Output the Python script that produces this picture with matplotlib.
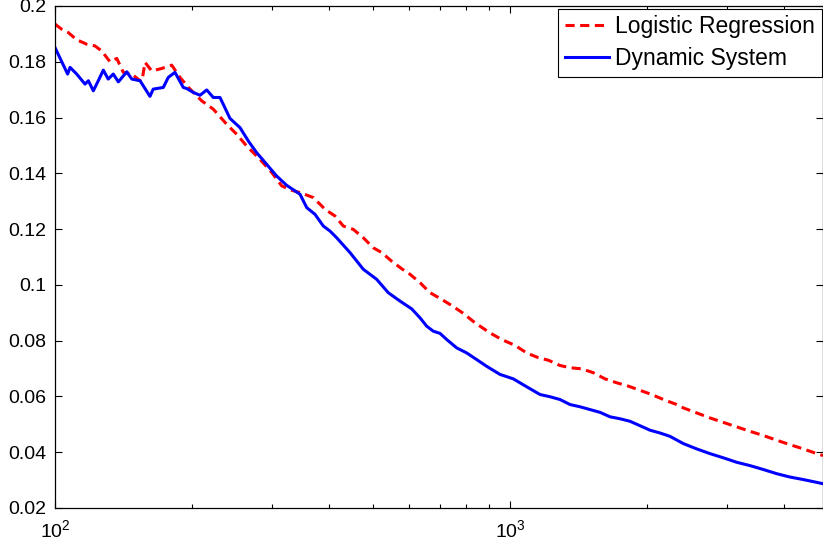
import matplotlib
matplotlib.use('Agg')
import matplotlib.pyplot as plt
from matplotlib.ticker import LogLocator, FixedLocator, FuncFormatter

plt.rcParams['font.family'] = ['Liberation Sans', 'DejaVu Sans']

# Dynamic System (azul)
x_dyn = [100, 106.6, 107.9, 111.6, 116.4, 118.4, 121.4, 124.5, 127.7, 130.9,
         134.3, 137.8, 143.8, 147.5, 153.8, 161.7, 164.4, 173.0, 177.4, 183.5,
         191.4, 194.8, 201.4, 208.3, 215.5, 222.8, 230.5, 242.4, 255.0, 266.0,
         277.5, 292.0, 307.1, 323.0, 331.3, 345.6, 357.5, 372.8, 388.8, 402.2,
         416.0, 444.9, 476.0, 509.3, 540.1, 573.1, 608.1, 634.2, 656.0, 678.3,
         702.0, 726.1, 763.8, 803.3, 845.1, 888.9, 950.6, 1017, 1090, 1164,
         1224, 1288, 1355, 1425, 1499, 1577, 1659, 1745, 1835, 1931,
         2031, 2136, 2247, 2404, 2572, 2751, 2943, 3149, 3369, 3604,
         3857, 4125, 4412, 4722, 4875]
y_dyn = [0.1851, 0.1756, 0.1780, 0.1756, 0.1720, 0.1732, 0.1696, 0.1732, 0.1770, 0.1738,
         0.1756, 0.1728, 0.1764, 0.1738, 0.1732, 0.1676, 0.1702, 0.1708, 0.1744, 0.1762,
         0.1708, 0.1704, 0.1690, 0.1680, 0.1699, 0.1672, 0.1672, 0.1597, 0.1564, 0.1516,
         0.1474, 0.1432, 0.1390, 0.1357, 0.1345, 0.1325, 0.1277, 0.1253, 0.1211, 0.1193,
         0.1169, 0.1116, 0.1056, 0.1020, 0.0972, 0.0942, 0.0914, 0.0882, 0.0852, 0.0834,
         0.0826, 0.0804, 0.0774, 0.0756, 0.0732, 0.0708, 0.0679, 0.0663, 0.0634, 0.0607,
         0.0599, 0.0589, 0.0571, 0.0563, 0.0553, 0.0543, 0.0527, 0.0520, 0.0511, 0.0495,
         0.0479, 0.0469, 0.0457, 0.0431, 0.0412, 0.0395, 0.0380, 0.0364, 0.0352, 0.0338,
         0.0323, 0.0311, 0.0302, 0.0292, 0.0287]

# Logistic Regression (rojo)
x_log = [100, 103.4, 106.9, 111.6, 117.4, 122.4, 126.6, 132.1, 136.7, 141.3,
         147.5, 153.8, 155.3, 157.7, 163.2, 171.6, 180.5, 185.1, 188.2, 198.1,
         210.1, 222.8, 238.4, 250.8, 263.8, 282.2, 299.5, 315.0, 330.0, 345.6,
         369.7, 392.2, 412.5, 430.2, 452.5, 476.0, 500.7, 522.4, 549.5, 578.0,
         603.0, 634.2, 667.2, 707.8, 744.6, 789.6, 837.7, 903.7, 959.0, 1026,
         1088, 1154, 1214, 1288, 1355, 1438, 1525, 1618, 1716, 1820,
         1931, 2048, 2173, 2325, 2404, 2572, 2751, 2943, 3149, 3369,
         3604, 3857, 4125, 4412, 4722, 4875]
y_log = [0.1935, 0.1917, 0.1905, 0.1879, 0.1863, 0.1857, 0.1839, 0.1800, 0.1812, 0.1762,
         0.1756, 0.1732, 0.1731, 0.1798, 0.1767, 0.1776, 0.1788, 0.1762, 0.1744, 0.1702,
         0.1660, 0.1630, 0.1576, 0.1540, 0.1498, 0.1450, 0.1403, 0.1355, 0.1340, 0.1331,
         0.1313, 0.1271, 0.1247, 0.1211, 0.1199, 0.1169, 0.1133, 0.1116, 0.1085, 0.1058,
         0.1038, 0.1008, 0.0972, 0.0948, 0.0926, 0.0898, 0.0864, 0.0828, 0.0804, 0.0783,
         0.0756, 0.0739, 0.0730, 0.0711, 0.0703, 0.0699, 0.0685, 0.0663, 0.0649, 0.0637,
         0.0622, 0.0607, 0.0589, 0.0571, 0.0559, 0.0541, 0.0523, 0.0507, 0.0491, 0.0475,
         0.0460, 0.0443, 0.0427, 0.0412, 0.0395, 0.0388]

y_ticks = [0.02, 0.04, 0.06, 0.08, 0.1, 0.12, 0.14, 0.16, 0.18, 0.2]

fig = plt.figure(figsize=(8.23, 5.5), dpi=100)
ax = fig.add_axes([55 / 823, 42 / 550, 1 - 55 / 823, 502 / 550])

ax.plot(x_log, y_log, color='red', lw=2.2, ls=(0, (3, 1.8)), label='Logistic Regression')
ax.plot(x_dyn, y_dyn, color='blue', lw=2.2, label='Dynamic System')

ax.set_xscale('log')
ax.set_xlim(100, 4875)
ax.set_ylim(0.02, 0.2)
ax.yaxis.set_major_locator(FixedLocator(y_ticks))
ax.yaxis.set_major_formatter(FuncFormatter(lambda v, p: f'{v:g}'))
ax.xaxis.set_major_locator(LogLocator(base=10))
ax.xaxis.set_minor_locator(LogLocator(base=10, subs=range(2, 10)))

ax.tick_params(which='both', direction='in', top=True, right=True, labelsize=14, pad=6)
ax.tick_params(axis='x', pad=8)
ax.tick_params(which='major', length=5, width=0.8)
ax.tick_params(which='minor', length=3, width=0.8)
for s in ax.spines.values():
    s.set_linewidth(0.9)

leg = ax.legend(loc='upper right', bbox_to_anchor=(0.999, 0.995), fontsize=16.5,
                handlelength=1.9, handletextpad=0.3, borderpad=0.3,
                labelspacing=0.38, fancybox=False, framealpha=1, borderaxespad=0)
leg.get_frame().set_edgecolor('black')
leg.get_frame().set_linewidth(0.8)

fig.savefig('out.png', dpi=100)
